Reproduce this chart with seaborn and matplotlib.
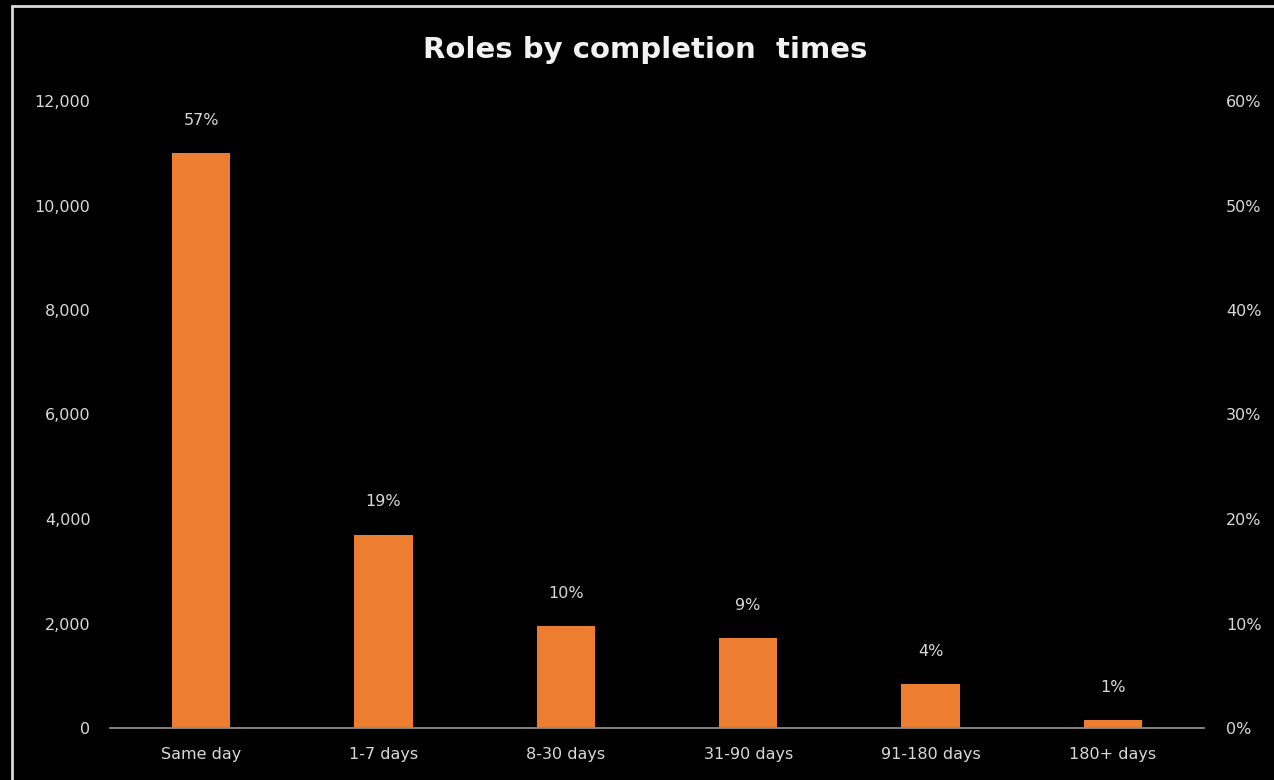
import matplotlib
matplotlib.use("Agg")
import matplotlib.pyplot as plt
import matplotlib.ticker as mticker
from matplotlib.patches import Rectangle
import seaborn as sns
import pandas as pd

categories = ["Same day", "1-7 days", "8-30 days", "31-90 days", "91-180 days", "180+ days"]
roles = [11000, 3700, 1950, 1720, 840, 150]
pct_labels = ["57%", "19%", "10%", "9%", "4%", "1%"]
left_ticks = [0, 2000, 4000, 6000, 8000, 10000, 12000]
right_ticks = [0, 0.1, 0.2, 0.3, 0.4, 0.5, 0.6]

sns.set_style("dark")
plt.rcParams["font.family"] = ["DejaVu Sans"]

BG = "#000000"
TXT = "#d9d9d9"
BAR = "#ED7D31"
FS = 11.5

fig = plt.figure(figsize=(12.74, 7.80), dpi=100, facecolor=BG)
ax = fig.add_axes([110 / 1274, 1 - 728 / 780, (1204 - 110) / 1274, (728 - 101) / 780])
ax.set_facecolor(BG)

df = pd.DataFrame({"cat": categories, "roles": roles})
sns.barplot(data=df, x="cat", y="roles", color=BAR, width=0.32, saturation=1,
            linewidth=0, ax=ax)

ax.set_ylim(0, 12000)
ax.set_yticks(left_ticks)
ax.yaxis.set_major_formatter(mticker.StrMethodFormatter("{x:,.0f}"))
ax.set_xlabel("")
ax.set_ylabel("")
ax.grid(False)
for s in ["top", "left", "right"]:
    ax.spines[s].set_visible(False)
ax.spines["bottom"].set_color("#8c8c8c")
ax.spines["bottom"].set_linewidth(1.3)
ax.tick_params(axis="both", length=0, colors=TXT, labelsize=FS)
ax.tick_params(axis="y", pad=14)
ax.tick_params(axis="x", pad=14)

for p, lab in zip(ax.patches, pct_labels):
    ax.annotate(lab, (p.get_x() + p.get_width() / 2, p.get_height()),
                xytext=(0, 33), textcoords="offset pixels",
                ha="center", va="center", color=TXT, fontsize=FS)

ax2 = ax.twinx()
ax2.set_ylim(0, 0.6)
ax2.set_yticks(right_ticks)
ax2.yaxis.set_major_formatter(mticker.PercentFormatter(1.0, decimals=0))
ax2.tick_params(axis="y", length=0, colors=TXT, labelsize=FS, pad=16)
ax2.grid(False)
for s in ["top", "left", "right", "bottom"]:
    ax2.spines[s].set_visible(False)

fig.text(645 / 1274, 1 - 50 / 780, "Roles by completion  times", ha="center", va="center",
         color="#f2f2f2", fontsize=21, fontweight="bold")

fig.patches.append(Rectangle((12 / 1274, -0.1), 1.2, 1 - 6 / 780 + 0.1,
                             transform=fig.transFigure, fill=False,
                             edgecolor="#d9d9d9", linewidth=2))

fig.savefig("out.png", dpi=100, facecolor=BG)
